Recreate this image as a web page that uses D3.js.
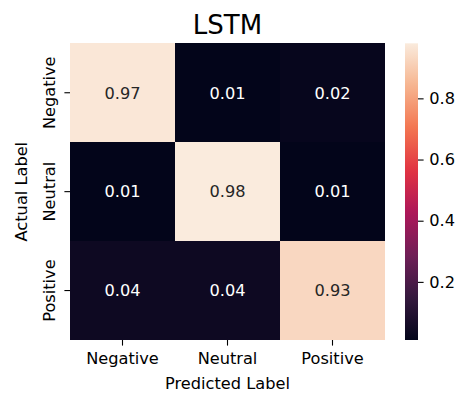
<!DOCTYPE html>
<html>
<head>
<meta charset="utf-8">
<script src="https://cdn.jsdelivr.net/npm/d3@7"></script>
<style>
  html, body { margin: 0; padding: 0; background: #fff; }
  svg { display: block; font-family: "DejaVu Sans", sans-serif; }
</style>
</head>
<body>
<svg id="chart" width="461" height="398"></svg>
<script>
// Confusion matrix for the LSTM classifier (rows: actual, columns: predicted)
const classes = ["Negative", "Neutral", "Positive"];
const negativeRow = [0.97, 0.01, 0.02];
const neutralRow  = [0.01, 0.98, 0.01];
const positiveRow = [0.04, 0.04, 0.93];
const colorbarTicks = [0.2, 0.4, 0.6, 0.8];
const titleText = "LSTM";

const rows = [negativeRow, neutralRow, positiveRow];
const cells = [];
rows.forEach((row, i) => row.forEach((v, j) => cells.push({ actual: classes[i], predicted: classes[j], value: v })));

// "rocket" colormap stops
const rocketStops = ["#03051a", "#35193e", "#701f57", "#ad1759", "#e13342", "#f37651", "#f6b48f", "#faebdd"];
const rocket = d3.scaleLinear()
  .domain(d3.range(rocketStops.length).map(i => i / (rocketStops.length - 1)))
  .range(rocketStops)
  .interpolate(d3.interpolateRgb);

const allValues = cells.map(d => d.value);
const vmin = d3.min(allValues), vmax = d3.max(allValues);
const norm = d3.scaleLinear().domain([vmin, vmax]).range([0, 1]).clamp(true);
const color = v => rocket(norm(v));

const svg = d3.select("#chart");
const fs = 16.2;

const plot = { left: 70, right: 385, top: 43.3, bottom: 340 };
const x = d3.scaleBand().domain(classes).range([plot.left, plot.right]);
const y = d3.scaleBand().domain(classes).range([plot.top, plot.bottom]);

// heatmap cells
svg.append("g").selectAll("rect").data(cells).join("rect")
  .attr("x", d => x(d.predicted))
  .attr("y", d => y(d.actual))
  .attr("width", x.bandwidth())
  .attr("height", y.bandwidth())
  .attr("fill", d => color(d.value))
  .attr("shape-rendering", "crispEdges");

// annotations
svg.append("g").selectAll("text").data(cells).join("text")
  .attr("x", d => x(d.predicted) + x.bandwidth() / 2)
  .attr("y", d => y(d.actual) + y.bandwidth() / 2)
  .attr("dy", "0.36em")
  .attr("text-anchor", "middle")
  .attr("font-size", fs)
  .attr("fill", d => (norm(d.value) > 0.6 ? "#262626" : "#ffffff"))
  .text(d => d.value.toFixed(2));

// axes
const tickLen = 5.6, pad = 5.6;
const xAxis = svg.append("g")
  .attr("transform", `translate(0,${plot.bottom})`)
  .call(d3.axisBottom(x).tickSize(tickLen).tickPadding(pad));
const yAxis = svg.append("g")
  .attr("transform", `translate(${plot.left},0)`)
  .call(d3.axisLeft(y).tickSize(tickLen).tickPadding(pad));
[xAxis, yAxis].forEach(g => {
  g.select(".domain").remove();
  g.selectAll(".tick line").attr("stroke", "#000").attr("stroke-width", 1.1);
  g.selectAll(".tick text").attr("font-size", fs).attr("fill", "#000").attr("font-family", "DejaVu Sans");
});
xAxis.selectAll(".tick text").attr("dy", "0.76em");
// vertical y tick labels, reading bottom to top
yAxis.selectAll(".tick text")
  .attr("x", null).attr("dy", null)
  .attr("text-anchor", "middle")
  .attr("transform", `translate(${-(tickLen + pad) - 3.8},0) rotate(-90)`);

// axis titles
svg.append("text")
  .attr("x", (plot.left + plot.right) / 2)
  .attr("y", 389)
  .attr("text-anchor", "middle")
  .attr("font-size", fs)
  .text("Predicted Label");
svg.append("text")
  .attr("transform", `translate(27,${(plot.top + plot.bottom) / 2}) rotate(-90)`)
  .attr("text-anchor", "middle")
  .attr("font-size", fs)
  .text("Actual Label");

// title
svg.append("text")
  .attr("x", (plot.left + plot.right) / 2)
  .attr("y", 34)
  .attr("text-anchor", "middle")
  .attr("font-size", 26)
  .text(titleText);

// colorbar
const cb = { left: 405, right: 418 };
const cbScale = d3.scaleLinear().domain([vmin, vmax]).range([plot.bottom, plot.top]);
const defs = svg.append("defs");
const grad = defs.append("linearGradient").attr("id", "cbgrad")
  .attr("x1", 0).attr("y1", 1).attr("x2", 0).attr("y2", 0);
d3.range(0, 1.0001, 0.02).forEach(t => {
  grad.append("stop").attr("offset", t).attr("stop-color", rocket(t));
});
svg.append("rect")
  .attr("x", cb.left).attr("y", plot.top)
  .attr("width", cb.right - cb.left).attr("height", plot.bottom - plot.top)
  .attr("fill", "url(#cbgrad)");
const cbAxis = svg.append("g")
  .attr("transform", `translate(${cb.right},0)`)
  .call(d3.axisRight(cbScale).tickValues(colorbarTicks).tickFormat(d3.format(".1f")).tickSize(tickLen).tickPadding(pad));
cbAxis.select(".domain").remove();
cbAxis.selectAll(".tick line").attr("stroke", "#000").attr("stroke-width", 1.1);
cbAxis.selectAll(".tick text").attr("font-size", fs).attr("fill", "#000").attr("font-family", "DejaVu Sans");
</script>
</body>
</html>
